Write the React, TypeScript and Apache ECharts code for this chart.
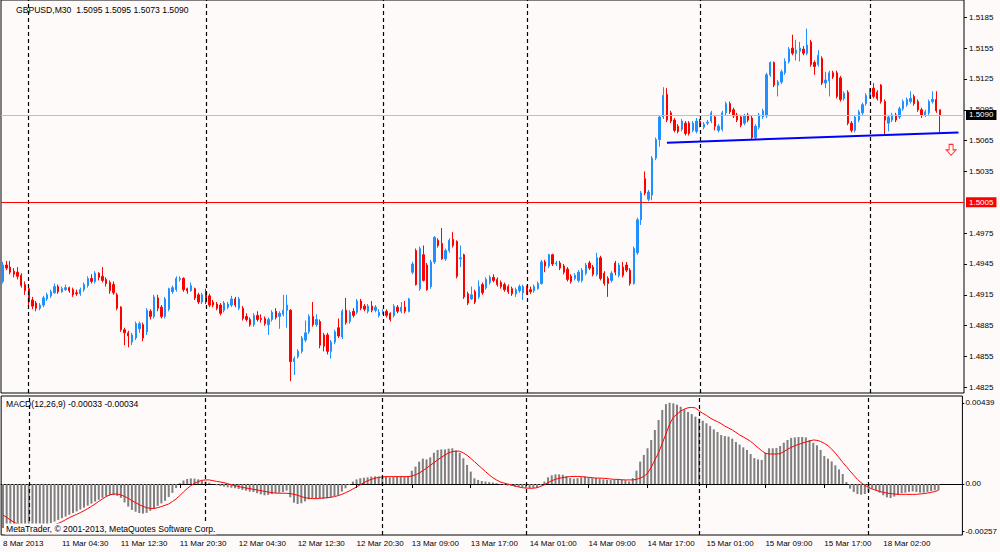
import React, { useEffect, useRef } from 'react';
import * as echarts from 'echarts';

// ---- price data, in pips (price x 10000), one entry per M30 bar ----
const OPEN = [
  14928,14944,14942,14938,14937,14934,14925,14921,14910,14907,
  14902,14905,14911,14914,14917,14923,14918,14920,14922,14920,
  14917,14916,14920,14924,14931,14928,14936,14933,14930,14927,
  14925,14915,14903,14881,14878,14869,14873,14882,14886,14879,
  14899,14894,14912,14903,14894,14901,14918,14920,14930,14931,
  14921,14919,14921,14915,14908,14918,14914,14908,14906,14905,
  14900,14903,14905,14911,14902,14902,14894,14891,14886,14895,
  14892,14892,14886,14891,14899,14894,14896,14900,14900,14850,
  14855,14860,14871,14879,14894,14886,14889,14876,14876,14860,
  14869,14883,14874,14900,14889,14899,14898,14909,14904,14899,
  14904,14900,14895,14898,14899,14897,14895,14903,14899,14903,
  14899,14937,14958,14921,14954,14944,14923,14947,14968,14965,
  14950,14958,14969,14967,14950,14954,14916,14911,14918,14913,
  14925,14922,14927,14932,14930,14927,14925,14923,14921,14916,
  14919,14917,14922,14920,14919,14921,14926,14947,14943,14954,
  14945,14946,14943,14940,14933,14931,14929,14929,14936,14946,
  14942,14935,14951,14936,14931,14929,14946,14934,14942,14944,
  14939,14926,14956,14988,15028,15008,15012,15048,15066,15088,
  15110,15092,15085,15079,15076,15082,15082,15075,15074,15084,
  15078,15082,15084,15088,15075,15076,15092,15101,15095,15090,
  15088,15082,15090,15087,15068,15078,15088,15089,15129,15141,
  15119,15122,15131,15142,15155,15150,15152,15154,15150,15161,
  15141,15139,15145,15121,15123,15131,15131,15126,15106,15112,
  15082,15075,15085,15092,15101,15108,15116,15112,15119,15103,
  15082,15085,15090,15088,15096,15100,15103,15108,15103,15095,
  15090,15092,15103,15105,15095,
];
const HIGH = [
  14947,14948,14948,14941,14942,14936,14928,14923,14913,14909,
  14907,14914,14917,14920,14926,14925,14923,14925,14923,14922,
  14920,14922,14927,14933,14935,14938,14937,14942,14932,14929,
  14928,14917,14904,14883,14880,14878,14889,14889,14888,14902,
  14901,14915,14915,14905,14913,14922,14924,14933,14933,14932,
  14922,14927,14922,14917,14917,14921,14916,14910,14908,14907,
  14909,14908,14914,14913,14913,14904,14897,14893,14897,14899,
  14896,14894,14893,14900,14902,14899,14915,14915,14901,14855,
  14862,14875,14890,14896,14908,14896,14891,14878,14878,14871,
  14881,14892,14901,14912,14900,14902,14911,14911,14906,14906,
  14909,14905,14901,14901,14901,14898,14906,14905,14908,14909,
  14912,14947,14960,14962,14963,14946,14949,14972,14970,14980,
  14960,14970,14976,14968,14963,14955,14918,14923,14920,14929,
  14927,14932,14934,14935,14932,14929,14927,14925,14923,14922,
  14925,14925,14924,14923,14925,14928,14949,14949,14955,14955,
  14948,14948,14945,14942,14935,14936,14939,14941,14946,14948,
  14944,14956,14953,14938,14933,14938,14948,14946,14947,14947,
  14941,14962,14990,15016,15035,15017,15050,15068,15090,15117,
  15116,15094,15087,15081,15086,15084,15084,15084,15087,15086,
  15083,15085,15094,15090,15081,15094,15103,15103,15097,15092,
  15090,15091,15092,15089,15081,15092,15096,15131,15142,15142,
  15124,15134,15145,15156,15168,15163,15161,15157,15174,15163,
  15143,15153,15147,15132,15133,15133,15133,15128,15113,15114,
  15084,15090,15095,15102,15111,15116,15121,15114,15120,15105,
  15090,15092,15092,15098,15105,15107,15113,15110,15105,15097,
  15095,15105,15113,15113,15095,
];
const LOW = [
  14926,14939,14935,14932,14930,14922,14915,14904,14901,14899,
  14900,14903,14909,14912,14916,14916,14917,14919,14917,14913,
  14914,14914,14918,14922,14926,14926,14929,14927,14923,14916,
  14915,14900,14879,14866,14864,14866,14871,14878,14870,14876,
  14891,14892,14899,14892,14892,14899,14916,14918,14928,14918,
  14916,14918,14910,14906,14906,14906,14903,14903,14900,14895,
  14898,14901,14903,14903,14900,14890,14889,14884,14884,14889,
  14888,14885,14876,14889,14891,14882,14894,14883,14831,14837,
  14853,14858,14869,14877,14884,14884,14863,14860,14857,14853,
  14867,14873,14872,14886,14887,14893,14896,14900,14899,14897,
  14898,14898,14893,14896,14893,14889,14893,14897,14897,14897,
  14898,14935,14924,14919,14928,14919,14921,14945,14961,14949,
  14948,14956,14961,14931,14942,14911,14905,14910,14906,14911,
  14915,14920,14925,14927,14923,14921,14918,14916,14914,14913,
  14917,14910,14915,14916,14917,14920,14925,14937,14941,14943,
  14943,14939,14935,14928,14926,14929,14927,14927,14934,14939,
  14933,14933,14929,14924,14913,14927,14934,14932,14932,14937,
  14924,14925,14954,14983,15012,15006,15007,15046,15059,15086,
  15083,15082,15073,15072,15074,15070,15070,15073,15072,15078,
  15076,15080,15082,15075,15073,15074,15090,15091,15087,15083,
  15078,15080,15083,15066,15066,15076,15086,15087,15127,15117,
  15108,15120,15129,15140,15148,15143,15142,15148,15148,15137,
  15129,15137,15119,15116,15108,15125,15106,15103,15104,15080,
  15073,15073,15083,15090,15099,15106,15106,15104,15101,15071,
  15074,15083,15083,15086,15094,15098,15101,15099,15093,15087,
  15088,15090,15101,15092,15073,
];
const CLOSE = [
  14944,14941,14937,14935,14933,14924,14919,14908,14904,14902,
  14905,14912,14915,14918,14923,14918,14921,14922,14919,14915,
  14916,14920,14925,14931,14928,14936,14932,14929,14926,14919,
  14917,14902,14881,14878,14875,14876,14887,14887,14873,14900,
  14894,14913,14902,14894,14911,14921,14922,14931,14931,14920,
  14919,14924,14912,14908,14915,14908,14905,14905,14902,14897,
  14907,14906,14911,14905,14911,14892,14891,14886,14895,14891,
  14891,14887,14891,14898,14893,14897,14900,14905,14850,14853,
  14860,14873,14878,14894,14886,14891,14866,14865,14860,14869,
  14879,14875,14899,14888,14898,14895,14909,14902,14901,14904,
  14900,14903,14898,14899,14895,14891,14904,14899,14903,14899,
  14911,14945,14925,14960,14929,14920,14947,14971,14963,14950,
  14958,14968,14963,14933,14951,14913,14907,14915,14908,14923,
  14917,14930,14932,14929,14925,14923,14920,14918,14916,14920,
  14923,14923,14917,14918,14923,14926,14947,14943,14954,14945,
  14946,14941,14937,14930,14928,14934,14937,14939,14944,14941,
  14935,14951,14931,14926,14926,14936,14937,14944,14934,14939,
  14926,14960,14988,15014,15014,15015,15048,15066,15088,15109,
  15085,15084,15075,15074,15084,15072,15072,15082,15084,15080,
  15081,15083,15092,15079,15079,15092,15101,15093,15089,15085,
  15080,15089,15085,15068,15079,15090,15094,15129,15141,15119,
  15122,15132,15142,15154,15150,15153,15155,15150,15158,15139,
  15137,15148,15121,15124,15131,15127,15108,15105,15111,15082,
  15075,15088,15093,15100,15109,15114,15108,15106,15103,15085,
  15088,15090,15085,15096,15103,15105,15106,15101,15095,15090,
  15093,15103,15105,15094,15090,
];

// ---- MACD(12,26,9), in units of 0.00001 ----
const MACD_MAIN = [
  -238,-244,-250,-254,-257,-257,-255,-252,-248,-244,
  -238,-231,-222,-212,-203,-194,-185,-176,-166,-157,
  -148,-138,-128,-117,-106,-95,-85,-75,-67,-61,
  -60,-64,-75,-100,-122,-140,-150,-157,-160,-156,
  -145,-132,-118,-105,-91,-70,-48,-22,4,19,
  27,30,29,25,18,13,7,0,-7,-11,
  -14,-18,-20,-23,-27,-32,-36,-41,-43,-50,
  -56,-61,-59,-54,-50,-47,-43,-36,-72,-101,
  -108,-104,-94,-83,-77,-77,-79,-79,-77,-72,
  -65,-59,-41,-23,-5,13,25,31,34,36,
  40,41,40,38,38,36,38,38,40,40,
  43,72,94,121,137,133,144,169,184,187,
  187,191,193,180,169,139,103,67,31,22,
  16,13,10,8,5,-2,-5,-9,-11,-14,
  -16,-18,-20,-22,-22,-20,-7,13,36,47,
  52,52,50,43,32,29,32,36,40,36,
  32,32,29,25,22,22,22,22,22,20,
  14,32,72,121,157,193,238,292,346,400,
  432,439,436,429,418,404,389,378,364,353,
  342,328,313,295,281,265,259,256,245,227,
  213,198,184,162,140,133,130,169,193,193,
  195,205,223,238,249,252,254,254,252,238,
  223,209,184,151,137,122,101,79,54,11,
  -25,-43,-54,-58,-54,-43,-25,-32,-47,-61,
  -72,-76,-68,-58,-50,-47,-43,-40,-43,-47,
  -47,-43,-38,-34,-33,
];
const MACD_SIGNAL = [
  -168,-180,-195,-207,-216,-220,-224,-225,-225,-227,
  -227,-227,-225,-224,-220,-213,-204,-193,-182,-173,
  -164,-155,-144,-133,-121,-108,-94,-81,-68,-59,
  -54,-54,-59,-67,-77,-90,-101,-112,-121,-128,
  -132,-132,-128,-122,-115,-108,-95,-81,-63,-43,
  -25,-9,4,13,20,22,22,18,14,11,
  7,2,-4,-9,-14,-18,-22,-25,-29,-32,
  -36,-40,-43,-47,-49,-50,-50,-50,-52,-56,
  -61,-68,-74,-77,-79,-79,-77,-76,-74,-72,
  -68,-63,-56,-47,-38,-27,-16,-4,7,18,
  25,31,36,38,40,40,40,40,40,40,
  40,43,50,59,72,85,101,115,130,144,
  157,168,175,178,177,168,155,139,121,103,
  85,67,50,34,22,11,5,0,-5,-11,
  -16,-20,-22,-23,-23,-20,-13,-4,7,18,
  25,31,34,38,40,41,41,40,38,36,
  34,32,32,31,29,27,25,25,23,22,
  22,22,25,32,41,58,90,130,169,220,
  270,324,360,378,394,405,412,414,411,396,
  382,371,357,346,337,326,313,303,292,279,
  265,254,243,230,214,196,180,166,162,162,
  162,164,175,187,198,207,214,221,227,232,
  238,236,230,220,207,189,167,142,117,94,
  70,47,25,7,-7,-18,-27,-34,-40,-45,
  -49,-52,-54,-56,-56,-56,-56,-56,-56,-54,
  -52,-49,-45,-41,-34,
];

// ---- axes / annotations ----
const TICK_INDEX = [0, 16, 32, 48, 64, 80, 96, 111, 127, 143, 159, 175, 191, 207, 223, 239];
const TICK_TEXT = [
  '8 Mar 2013', '11 Mar 04:30', '11 Mar 12:30', '11 Mar 20:30', '12 Mar 04:30',
  '12 Mar 12:30', '12 Mar 20:30', '13 Mar 09:00', '13 Mar 17:00', '14 Mar 01:00',
  '14 Mar 09:00', '14 Mar 17:00', '15 Mar 01:00', '15 Mar 09:00', '15 Mar 17:00',
  '18 Mar 02:00',
];
const DAY_SEPARATORS = [7, 55, 103, 142, 189, 235];
const PRICE_TICKS = [1.5185, 1.5155, 1.5125, 1.5095, 1.5065, 1.5035, 1.4975, 1.4945, 1.4915, 1.4885, 1.4855, 1.4825];
const MACD_TICKS = [0.00439, 0, -0.00257];
const BID_PRICE = 1.509;
const LEVEL_PRICE = 1.5005;
const TREND_LINE = [[180, 1.5063], [259, 1.5073]];
const SELL_ARROW = [[257, 1.5056]];
const TOTAL_SLOTS = 261;

const TITLE = 'GBPUSD,M30  1.5095 1.5095 1.5073 1.5090';
const MACD_TITLE = 'MACD(12,26,9) -0.00033 -0.00034';
const COPYRIGHT = 'MetaTrader, \u00A9 2001-2013, MetaQuotes Software Corp.';

const BG = '#fffafa';
const FONT = 'Liberation Sans';
const BULL = '#1e90ff';
const BEAR = '#ff0000';

export default function App() {
  const ref = useRef<HTMLDivElement>(null);

  useEffect(() => {
    document.body.style.margin = '0';
    if (!ref.current) return;
    const chart = echarts.init(ref.current, null, { renderer: 'svg' });

    const cats = Array.from({ length: TOTAL_SLOTS }, (_, i) => String(i));
    const tickSet = new Set(TICK_INDEX);
    const tickLabel: Record<number, string> = {};
    TICK_INDEX.forEach((idx, k) => { tickLabel[idx] = TICK_TEXT[k]; });

    const candles = OPEN.map((o, i) => [o / 1e4, CLOSE[i] / 1e4, LOW[i] / 1e4, HIGH[i] / 1e4]);
    const macdMain = MACD_MAIN.map((v) => v / 1e5);
    const macdSignal = MACD_SIGNAL.map((v) => v / 1e5);

    const sepLineStyle = { color: '#000', width: 1.2, type: [4, 3] };

    const option: any = {
      animation: false,
      backgroundColor: BG,
      textStyle: { fontFamily: FONT },
      grid: [
        { left: 1, top: 0, width: 963, height: 393, show: true, borderColor: '#000', borderWidth: 1, backgroundColor: 'transparent' },
        { left: 1, top: 396, width: 963, height: 139, show: true, borderColor: '#000', borderWidth: 1, backgroundColor: 'transparent' },
      ],
      xAxis: [
        {
          type: 'category', gridIndex: 0, data: cats, boundaryGap: true,
          axisLine: { show: false }, axisTick: { show: false }, axisLabel: { show: false }, splitLine: { show: false },
        },
        {
          type: 'category', gridIndex: 1, data: cats, boundaryGap: true,
          axisLine: { show: true, lineStyle: { color: '#000', width: 1 } },
          axisTick: {
            show: true, alignWithLabel: true, length: 4, lineStyle: { color: '#000' },
            interval: (idx: number) => tickSet.has(idx),
          },
          axisLabel: {
            show: true, interval: (idx: number) => tickSet.has(idx),
            formatter: (_v: string, idx: number) => tickLabel[idx] ?? '',
            align: 'left', margin: 4, fontSize: 8, color: '#000', fontFamily: FONT,
          },
          splitLine: { show: false },
        },
      ],
      yAxis: [
        {
          type: 'value', gridIndex: 0, position: 'right', min: 1.48195, max: 1.52018,
          splitLine: { show: false }, axisLine: { show: false },
          axisTick: { show: true, length: 3, lineStyle: { color: '#000' }, customValues: PRICE_TICKS },
          axisLabel: {
            show: true, customValues: PRICE_TICKS, formatter: (v: number) => v.toFixed(4),
            margin: 5, fontSize: 8, color: '#000', fontFamily: FONT,
          },
        },
        {
          type: 'value', gridIndex: 1, position: 'right', min: -0.002757, max: 0.004757,
          splitLine: { show: false }, axisLine: { show: false },
          axisTick: { show: true, length: 2, lineStyle: { color: '#000' }, customValues: MACD_TICKS },
          axisLabel: {
            show: true, customValues: MACD_TICKS,
            formatter: (v: number) => (Math.abs(v) < 1e-9 ? '0.00' : v.toFixed(5)),
            margin: 3, fontSize: 8, color: '#000', fontFamily: FONT,
          },
        },
      ],
      series: [
        {
          type: 'candlestick', xAxisIndex: 0, yAxisIndex: 0, data: candles, barWidth: 1.8,
          itemStyle: { color: BULL, color0: BEAR, borderColor: BULL, borderColor0: BEAR, borderWidth: 1 },
          markLine: {
            silent: true,
            precision: 6,
            symbol: ['none', 'none'],
            animation: false,
            data: [
              ...DAY_SEPARATORS.map((i) => ({
                xAxis: i,
                label: { show: false },
                lineStyle: sepLineStyle,
              })),
              {
                yAxis: BID_PRICE,
                lineStyle: { color: '#c0c0c0', width: 1, type: 'solid' },
                label: {
                  show: true, position: 'end', distance: 2, formatter: BID_PRICE.toFixed(4),
                  color: '#fff', backgroundColor: '#000', padding: [1, 3, 0, 3], lineHeight: 9,
                  fontSize: 8, fontFamily: FONT,
                },
              },
              {
                yAxis: LEVEL_PRICE,
                lineStyle: { color: '#ff0000', width: 1, type: 'solid' },
                label: {
                  show: true, position: 'end', distance: 2, formatter: LEVEL_PRICE.toFixed(4),
                  color: '#fff', backgroundColor: '#ff0000', padding: [1, 3, 0, 3], lineHeight: 9,
                  fontSize: 8, fontFamily: FONT,
                },
              },
            ],
          },
        },
        {
          type: 'line', xAxisIndex: 0, yAxisIndex: 0, data: TREND_LINE, symbol: 'none',
          lineStyle: { color: '#0000ff', width: 2 }, silent: true,
        },
        {
          type: 'scatter', xAxisIndex: 0, yAxisIndex: 0, data: SELL_ARROW,
          symbol: 'path://M3,0 L7,0 L7,5 L10,5 L5,10 L0,5 L3,5 Z', symbolSize: [10, 11],
          itemStyle: { color: 'rgba(0,0,0,0)', borderColor: '#ff0000', borderWidth: 1 }, silent: true,
        },
        {
          type: 'bar', xAxisIndex: 1, yAxisIndex: 1, data: macdMain, barWidth: 2,
          itemStyle: { color: '#7f7f7f' }, silent: true,
          markLine: {
            silent: true,
            precision: 6,
            symbol: ['none', 'none'],
            animation: false,
            label: { show: false },
            lineStyle: sepLineStyle,
            data: DAY_SEPARATORS.map((i) => ({ xAxis: i })),
          },
        },
        {
          type: 'line', xAxisIndex: 1, yAxisIndex: 1, data: macdSignal, symbol: 'none',
          lineStyle: { color: '#ff0000', width: 1 }, silent: true,
        },
      ],
      graphic: [
        {
          type: 'text', x: 16, y: 10, silent: true,
          style: { text: TITLE, fill: '#000', font: `8.6px "${FONT}"`, verticalAlign: 'middle', textVerticalAlign: 'middle' },
        },
        {
          type: 'text', x: 6, y: 404, silent: true,
          style: { text: MACD_TITLE, fill: '#000', font: `8.6px "${FONT}"`, verticalAlign: 'middle', textVerticalAlign: 'middle' },
        },
        {
          type: 'text', x: 5, y: 529, silent: true, z: 100,
          style: {
            text: COPYRIGHT, fill: '#000', font: `8.6px "${FONT}"`, verticalAlign: 'middle', textVerticalAlign: 'middle',
            backgroundColor: BG, padding: [1, 1, 1, 1],
          },
        },
      ],
    };

    chart.setOption(option);
    return () => chart.dispose();
  }, []);

  return <div ref={ref} style={{ width: 1000, height: 552, background: BG }} />;
}
